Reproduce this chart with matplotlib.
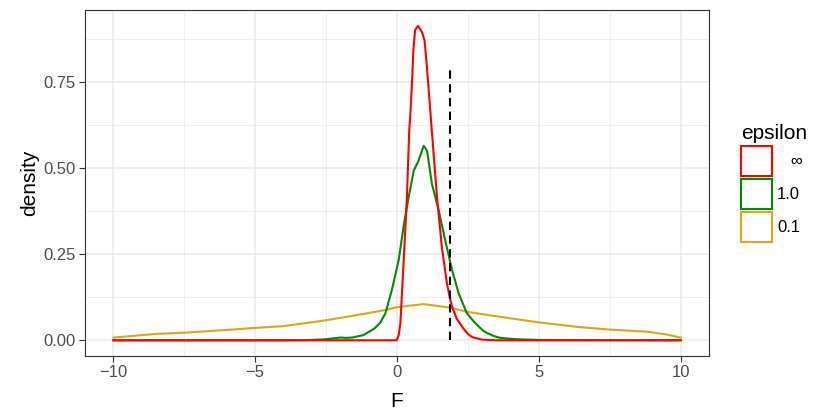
import matplotlib
matplotlib.use('Agg')
import matplotlib.pyplot as plt
from matplotlib.patches import Patch

plt.rcParams['font.family'] = ['Liberation Sans', 'DejaVu Sans']

# densities
red_x = [-10, -0.01, 0.06, 0.12, 0.23, 0.35, 0.43, 0.47, 0.53, 0.58, 0.64, 0.74, 0.88, 0.97,
         1.05, 1.14, 1.23, 1.41, 1.58, 1.76, 1.88, 1.94, 2.0, 2.11, 2.35, 2.52, 2.64, 2.76, 3.0, 3.5, 10]
red_y = [0, 0, 0.015, 0.05, 0.223, 0.415, 0.608, 0.654, 0.75, 0.846, 0.90, 0.912, 0.894, 0.87,
         0.798, 0.702, 0.605, 0.415, 0.271, 0.165, 0.117, 0.098, 0.085, 0.062, 0.033, 0.017, 0.0096, 0.0066, 0.002, 0, 0]

green_x = [-10, -4, -3, -2.5, -2.3, -2.0, -1.8, -1.58, -1.18, -0.8, -0.6, -0.41, -0.18, 0.06, 0.23,
           0.41, 0.59, 0.76, 0.94, 1.06, 1.23, 1.47, 1.70, 1.94, 2.17, 2.46, 2.7, 2.88, 3.05, 3.23,
           3.46, 3.64, 4.2, 5, 10]
green_y = [0, 0, 0.001, 0.003, 0.005, 0.008, 0.007, 0.008, 0.015, 0.034, 0.05, 0.078, 0.146, 0.233, 0.329,
           0.415, 0.492, 0.521, 0.564, 0.55, 0.454, 0.377, 0.29, 0.204, 0.137, 0.079, 0.055, 0.040, 0.027, 0.019,
           0.011, 0.007, 0.003, 0.001, 0]

orange_x = [-10, -8.5, -7.5, -6, -5, -4, -2.5, -1, -0.41, 0, 0.94, 1.88, 2.5, 3.64, 5, 6.34, 7.5, 8.8, 9.5, 10]
orange_y = [0.0077, 0.0185, 0.022, 0.03, 0.036, 0.041, 0.058, 0.079, 0.088, 0.096, 0.105, 0.0945, 0.082, 0.068,
            0.052, 0.039, 0.031, 0.025, 0.017, 0.0077]

threshold_x = 1.88
threshold_top = 0.785

labels = ['   \u221e', '1.0', '0.1']
colors = ['#FF0000', '#008B00', '#DAA520']

xticks = [-10, -5, 0, 5, 10]
xlabels = ['\u221210', '\u22125', '0', '5', '10']
yticks = [0, 0.25, 0.5, 0.75]
ylabels = ['0.00', '0.25', '0.50', '0.75']

fig = plt.figure(figsize=(8.3, 4.15), dpi=100)
ax = fig.add_axes([85/830, 1-356/415, 624/830, 346/415])

ax.set_xlim(-11, 11)
ax.set_ylim(-0.0456, 0.958)
ax.set_xticks(xticks)
ax.set_xticklabels(xlabels)
ax.set_yticks(yticks)
ax.set_yticklabels(ylabels)
ax.set_xticks([-7.5, -2.5, 2.5, 7.5], minor=True)
ax.set_yticks([0.125, 0.375, 0.625, 0.875], minor=True)
ax.grid(which='major', color='#EBEBEB', lw=1.1)
ax.grid(which='minor', color='#EBEBEB', lw=0.55)
ax.set_axisbelow(True)
ax.tick_params(which='minor', length=0)
ax.tick_params(which='major', length=4.3, width=0.8, color='#333333',
               labelsize=12, labelcolor='#4D4D4D', pad=2.5)
for s in ax.spines.values():
    s.set_color('#333333')
    s.set_linewidth(0.8)

ax.plot(orange_x, orange_y, color=colors[2], lw=1.5)
ax.plot(green_x, green_y, color=colors[1], lw=1.5)
ax.plot(red_x, red_y, color=colors[0], lw=1.5)
ax.vlines(threshold_x, 0, threshold_top, colors='black', lw=1.5, linestyles=(0, (4, 2.6)))

ax.set_xlabel('F', fontsize=15, labelpad=8)
ax.set_ylabel('density', fontsize=15, labelpad=3)

handles = [Patch(facecolor='white', edgecolor=c, lw=1.5) for c in colors]
leg = fig.legend(handles, labels, title='epsilon', loc='upper left',
                 bbox_to_anchor=(741/830, 1-124/415), frameon=False, fontsize=12,
                 title_fontsize=15, handlelength=1.86, handleheight=2.39,
                 labelspacing=0.18, handletextpad=0.3, borderpad=0, borderaxespad=0,
                 alignment='left')

fig.savefig('out.png', dpi=100)
